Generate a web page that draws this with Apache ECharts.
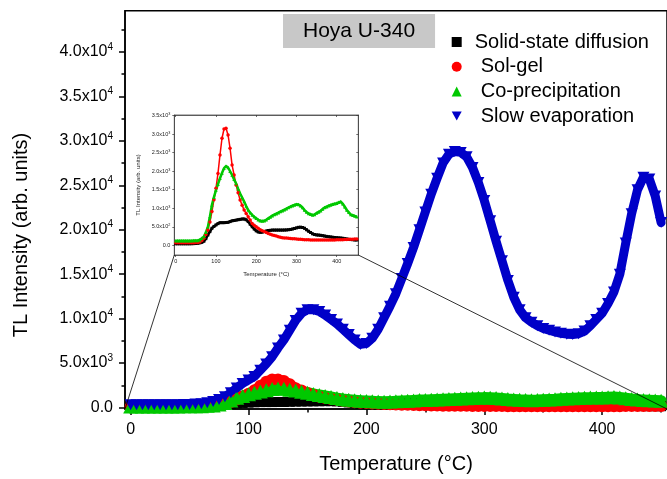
<!DOCTYPE html>
<html><head><meta charset="utf-8">
<script src="https://cdn.jsdelivr.net/npm/echarts@6/dist/echarts.min.js"></script>
<style>html,body{margin:0;padding:0;background:#fff}#c{width:667px;height:479px}</style>
</head><body><div id="c"></div>
<script>
const temps = [0,5,10,15,20,25,30,35,40,45,50,55,60,65,70,75,80,85,90,95,100,105,110,115,120,125,130,135,140,145,150,155,160,165,170,175,180,185,190,195,200,205,210,215,220,225,230,235,240,245,250,255,260,265,270,275,280,285,290,295,300,305,310,315,320,325,330,335,340,345,350,355,360,365,370,375,380,385,390,395,400,405,410,415,420,425,430,435,440,445,450];
const solidState = [40,40,40,40,40,40,40,40,42,45,50,55,65,80,110,180,280,370,460,510,550,585,610,610,610,615,620,640,660,670,680,690,700,710,710,690,640,570,500,440,390,360,350,355,370,385,400,405,410,410,410,410,410,410,412,415,420,428,440,455,470,485,490,480,460,420,380,345,310,290,280,275,270,260,250,240,232,225,218,210,205,200,195,190,180,170,160,155,150,145,143];
const solGel = [70,70,70,70,70,70,70,70,70,72,73,75,90,130,190,290,414,630,910,1230,1540,1940,2440,2890,3140,3160,2980,2620,2170,1900,1630,1420,1220,1080,950,860,770,680,590,540,500,460,420,395,370,345,320,300,280,265,250,232,215,205,198,194,190,185,180,175,170,165,160,155,150,148,147,146,145,145,145,144,143,143,142,142,143,144,145,146,147,148,150,152,155,158,160,162,165,168,170];
const coPrecip = [125,125,125,125,125,125,125,125,125,127,128,130,150,190,235,350,500,780,1090,1300,1490,1650,1810,1950,2080,2140,2100,2000,1900,1780,1670,1530,1400,1290,1180,1060,950,880,820,770,730,690,660,655,660,690,730,765,800,830,855,880,910,935,960,990,1020,1045,1070,1090,1110,1100,1070,1020,950,900,860,840,820,830,870,900,930,980,1020,1040,1070,1090,1110,1125,1135,1160,1180,1120,1040,953,890,830,810,790,772];
const slowEvap = [300,300,300,300,300,300,310,310,320,330,350,380,430,520,680,900,1200,1650,2200,2700,3100,3500,4200,4900,5700,6700,7600,8700,9800,10600,11000,11000,10800,10400,9900,9400,8800,8200,7600,7100,7200,7800,8800,10100,11400,12800,14500,16200,18000,20000,22000,24000,25800,27500,28500,28800,28700,28200,27000,25300,23300,21000,18700,16500,14300,12400,11000,10100,9600,9200,8900,8700,8500,8350,8250,8200,8300,8600,9200,9900,10600,11700,13000,15000,18500,21800,24500,25900,25700,23800,20800];

const seriesNames = ['Solid-state diffusion','Sol-gel','Co-precipitation','Slow evaporation'];
const xTicks = [0,100,200,300,400];
const xMinorTicks = [50,150,250,350,450];
const yTicks = [0,5000,10000,15000,20000,25000,30000,35000,40000];
const yTickMant = ['0.0','5.0','1.0','1.5','2.0','2.5','3.0','3.5','4.0'];
const yTickExp = ['','3','4','4','4','4','4','4','4'];
const yMinorTicks = [2500,7500,12500,17500,22500,27500,32500,37500,42500];
const insetYTicks = [0,500,1000,1500,2000,2500,3000,3500];
const insetYMant = ['0.0','5.0','1.0','1.5','2.0','2.5','3.0','3.5'];
const insetYExp = ['','2','3','3','3','3','3','3'];

const FONT = '"Liberation Sans", Arial, sans-serif';
const X_MIN = -4.8, X_MAX = 455, Y_MIN = -170, Y_MAX = 44640;
const IX_MIN = -3.5, IX_MAX = 453.6, IY_MIN = -262, IY_MAX = 3518;

const pairs = vals => temps.map((t, i) => [t, vals[i]]);
function supFmt(ticks, mant, exp) {
  return v => {
    const i = ticks.indexOf(Math.round(v));
    if (i < 0) return '';
    return exp[i] ? '{m|' + mant[i] + 'x10}{e|' + exp[i] + '}' : '{m|' + mant[i] + '}';
  };
}

const chart = echarts.init(document.getElementById('c'), null, {renderer: 'canvas'});
const colors = ['#000000', '#ff0000', '#00c800', '#0000c8'];

const option = {
  animation: false,
  backgroundColor: '#fff',
  title: {
    text: 'Hoya U-340', left: 283, top: 14, padding: [5, 20, 5, 20],
    backgroundColor: '#c8c8c8',
    textStyle: {fontFamily: FONT, fontSize: 21, fontWeight: 'normal', color: '#000', lineHeight: 24}
  },
  legend: {
    orient: 'vertical', left: 446.7, top: 27, itemWidth: 10, itemHeight: 10, itemGap: 4.7,
    textStyle: {fontFamily: FONT, fontSize: 20, color: '#000', lineHeight: 20, padding: [0, 0, 0, 8]},
    data: [
      {name: seriesNames[0], icon: 'rect'},
      {name: seriesNames[1], icon: 'circle', textStyle: {padding: [0, 0, 0, 14]}},
      {name: seriesNames[2], icon: 'triangle', textStyle: {padding: [0, 0, 0, 14]}},
      {name: seriesNames[3], icon: 'path://M0,0L10,0L5,9Z', textStyle: {padding: [0, 0, 0, 14]}}
    ]
  },
  grid: [
    {left: 125, top: 10.7, right: -2, bottom: 69.5, show: true, borderColor: '#000', borderWidth: 1.5, backgroundColor: 'transparent'},
    {left: 174.3, top: 115, width: 184, height: 140, show: true, borderColor: '#333', borderWidth: 0.7, backgroundColor: '#fff'}
  ],
  xAxis: [
    {gridIndex: 0, type: 'value', position: 'bottom', min: X_MIN, max: X_MAX,
     axisLine: {onZero: false, lineStyle: {color: '#000', width: 1.5}},
     axisTick: {customValues: xTicks, length: 6, lineStyle: {color: '#000', width: 1.5}},
     axisLabel: {customValues: xTicks, fontFamily: FONT, fontSize: 16, color: '#000', margin: 13},
     splitLine: {show: false},
     name: 'Temperature (\u00B0C)', nameLocation: 'middle', nameGap: 45,
     nameTextStyle: {fontFamily: FONT, fontSize: 20, color: '#000'}},
    {gridIndex: 0, type: 'value', position: 'bottom', min: X_MIN, max: X_MAX,
     axisLine: {show: false, onZero: false},
     axisTick: {show: true, customValues: xMinorTicks, length: 3.5, lineStyle: {color: '#000', width: 1.5}},
     axisLabel: {show: false}, splitLine: {show: false}},
    {gridIndex: 1, type: 'value', position: 'bottom', min: IX_MIN, max: IX_MAX,
     axisLine: {onZero: false, lineStyle: {color: '#333', width: 0.7}},
     axisTick: {customValues: xTicks, length: 2, lineStyle: {color: '#333', width: 0.7}},
     axisLabel: {customValues: xTicks, fontFamily: FONT, fontSize: 5.5, color: '#222', margin: 3},
     splitLine: {show: false},
     name: 'Temperature (\u00B0C)', nameLocation: 'middle', nameGap: 16,
     nameTextStyle: {fontFamily: FONT, fontSize: 6, color: '#222'}},
    {gridIndex: 1, type: 'value', position: 'top', min: IX_MIN, max: IX_MAX,
     axisLine: {onZero: false, lineStyle: {color: '#333', width: 0.7}},
     axisTick: {customValues: xTicks, inside: true, length: 2, lineStyle: {color: '#333', width: 0.7}},
     axisLabel: {show: false}, splitLine: {show: false}}
  ],
  yAxis: [
    {gridIndex: 0, type: 'value', position: 'left', min: Y_MIN, max: Y_MAX,
     axisLine: {show: true, onZero: false, lineStyle: {color: '#000', width: 1.5}},
     axisTick: {show: true, customValues: yTicks, length: 6, lineStyle: {color: '#000', width: 1.5}},
     axisLabel: {customValues: yTicks, formatter: supFmt(yTicks, yTickMant, yTickExp), margin: 12,
       rich: {m: {fontFamily: FONT, fontSize: 16, color: '#000', lineHeight: 20},
              e: {fontFamily: FONT, fontSize: 10, color: '#000', lineHeight: 12, verticalAlign: 'top'}}},
     splitLine: {show: false}},
    {gridIndex: 0, type: 'value', position: 'left', min: Y_MIN, max: Y_MAX,
     axisLine: {show: false, onZero: false},
     axisTick: {show: true, customValues: yMinorTicks, length: 3.5, lineStyle: {color: '#000', width: 1.5}},
     axisLabel: {show: false}, splitLine: {show: false}},
    {gridIndex: 1, type: 'value', position: 'left', min: IY_MIN, max: IY_MAX,
     axisLine: {show: true, onZero: false, lineStyle: {color: '#333', width: 0.7}},
     axisTick: {show: true, customValues: insetYTicks, length: 2, lineStyle: {color: '#333', width: 0.7}},
     axisLabel: {customValues: insetYTicks, formatter: supFmt(insetYTicks, insetYMant, insetYExp), margin: 4,
       rich: {m: {fontFamily: FONT, fontSize: 5.5, color: '#222', lineHeight: 7},
              e: {fontFamily: FONT, fontSize: 3.8, color: '#222', lineHeight: 4.5, verticalAlign: 'top'}}},
     splitLine: {show: false},
     name: 'TL Intensity (arb. units)', nameLocation: 'middle', nameRotate: 90, nameGap: 33,
     nameTextStyle: {fontFamily: FONT, fontSize: 6, color: '#222'}},
    {gridIndex: 1, type: 'value', position: 'right', min: IY_MIN, max: IY_MAX,
     axisLine: {show: true, onZero: false, lineStyle: {color: '#333', width: 0.7}},
     axisTick: {show: true, customValues: insetYTicks, inside: true, length: 2, lineStyle: {color: '#333', width: 0.7}},
     axisLabel: {show: false}, splitLine: {show: false}}
  ],
  series: [
    {name: seriesNames[0], type: 'line', xAxisIndex: 0, yAxisIndex: 0, data: pairs(solidState),
     symbol: 'rect', symbolSize: 10, showSymbol: true, showAllSymbol: true,
     itemStyle: {color: colors[0]}, lineStyle: {color: colors[0], width: 8, cap: 'round', join: 'round'}},
    {name: seriesNames[1], type: 'line', xAxisIndex: 0, yAxisIndex: 0, data: pairs(solGel),
     symbol: 'circle', symbolSize: 12, showSymbol: true, showAllSymbol: true,
     itemStyle: {color: colors[1]}, lineStyle: {color: colors[1], width: 10, cap: 'round', join: 'round'}},
    {name: seriesNames[2], type: 'line', xAxisIndex: 0, yAxisIndex: 0, data: pairs(coPrecip),
     symbol: 'triangle', symbolSize: [15, 14], showSymbol: true, showAllSymbol: true,
     itemStyle: {color: colors[2]}, lineStyle: {color: colors[2], width: 11, cap: 'round', join: 'round'}},
    {name: seriesNames[3], type: 'line', xAxisIndex: 0, yAxisIndex: 0, data: pairs(slowEvap),
     symbol: 'triangle', symbolRotate: 180, symbolSize: [12, 11], showSymbol: true, showAllSymbol: true,
     itemStyle: {color: colors[3]}, lineStyle: {color: colors[3], width: 9, cap: 'round', join: 'round'}},
    {name: seriesNames[0], type: 'line', xAxisIndex: 2, yAxisIndex: 2, data: pairs(solidState),
     symbol: 'rect', symbolSize: 3, showSymbol: true, showAllSymbol: true,
     itemStyle: {color: colors[0]}, lineStyle: {color: colors[0], width: 2.5}},
    {name: seriesNames[1], type: 'line', xAxisIndex: 2, yAxisIndex: 2, data: pairs(solGel),
     symbol: 'circle', symbolSize: 3.5, showSymbol: true, showAllSymbol: true,
     itemStyle: {color: colors[1]}, lineStyle: {color: colors[1], width: 1.5}},
    {name: seriesNames[2], type: 'line', xAxisIndex: 2, yAxisIndex: 2, data: pairs(coPrecip),
     symbol: 'triangle', symbolSize: 3.5, showSymbol: true, showAllSymbol: true,
     itemStyle: {color: colors[2]}, lineStyle: {color: colors[2], width: 2.5}}
  ]
};
chart.setOption(option);

const mBL = chart.convertToPixel({xAxisIndex: 0, yAxisIndex: 0}, [X_MIN, Y_MIN]);
const mBR = chart.convertToPixel({xAxisIndex: 0, yAxisIndex: 0}, [X_MAX, Y_MIN]);
const iBL = chart.convertToPixel({xAxisIndex: 2, yAxisIndex: 2}, [IX_MIN, IY_MIN]);
const iBR = chart.convertToPixel({xAxisIndex: 2, yAxisIndex: 2}, [IX_MAX, IY_MIN]);
chart.setOption({
  graphic: [
    {type: 'line', z: 100, shape: {x1: mBL[0], y1: mBL[1], x2: iBL[0], y2: iBL[1]}, style: {stroke: '#000', lineWidth: 0.8}},
    {type: 'line', z: 100, shape: {x1: iBR[0], y1: iBR[1], x2: mBR[0], y2: mBR[1]}, style: {stroke: '#000', lineWidth: 0.8}},
    {type: 'text', z: 100, x: 21, y: 235, rotation: Math.PI / 2,
     style: {text: 'TL Intensity (arb. units)', font: '20px "Liberation Sans", Arial, sans-serif', fill: '#000',
             align: 'center', verticalAlign: 'middle', textAlign: 'center', textVerticalAlign: 'middle'}}
  ]
});
</script>
</body></html>
